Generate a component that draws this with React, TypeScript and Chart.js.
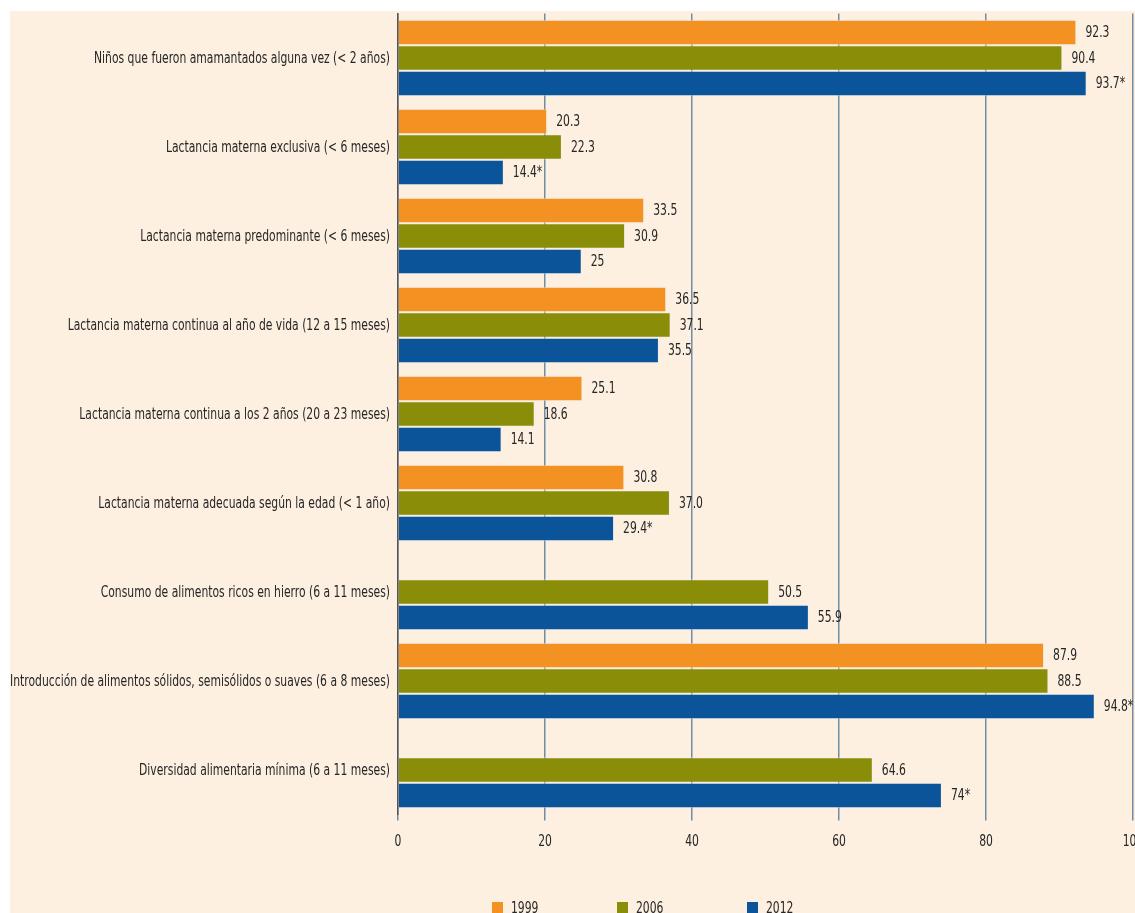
import React, { useEffect, useRef } from "react";
import { Chart, registerables } from "chart.js";

Chart.register(...registerables);

const categories = [
  "Niños que fueron amamantados alguna vez (< 2 años)",
  "Lactancia materna exclusiva (< 6 meses)",
  "Lactancia materna predominante (< 6 meses)",
  "Lactancia materna continua al año de vida (12 a 15 meses)",
  "Lactancia materna continua a los 2 años (20 a 23 meses)",
  "Lactancia materna adecuada según la edad (< 1 año)",
  "Consumo de alimentos ricos en hierro (6 a 11 meses)",
  "Introducción de alimentos sólidos, semisólidos o suaves (6 a 8 meses)",
  "Diversidad alimentaria mínima (6 a 11 meses)",
];

const seriesNames = ["1999", "2006", "2012"];

const values1999 = [92.3, 20.3, 33.5, 36.5, 25.1, 30.8, null, 87.9, null];
const values2006 = [90.4, 22.3, 30.9, 37.1, 18.6, 37.0, 50.5, 88.5, 64.6];
const values2012 = [93.7, 14.4, 25, 35.5, 14.1, 29.4, 55.9, 94.8, 74];

const labels1999 = ["92.3", "20.3", "33.5", "36.5", "25.1", "30.8", "", "87.9", ""];
const labels2006 = ["90.4", "22.3", "30.9", "37.1", "18.6", "37.0", "50.5", "88.5", "64.6"];
const labels2012 = ["93.7*", "14.4*", "25", "35.5", "14.1", "29.4*", "55.9", "94.8*", "74*"];

const xTickValues = [0, 20, 40, 60, 80, 100];

const COLORS = ["#F39223", "#8A8D08", "#0B5499"];
const BG = "#FDF0E1";
const TEXT = "#262626";
const FONT = "'DejaVu Sans Condensed', 'DejaVu Sans', sans-serif";
const FONT_SIZE = 15;
const SQUEEZE = 0.8;

function drawCondensed(ctx: CanvasRenderingContext2D, text: string, x: number, y: number, align: CanvasTextAlign) {
  ctx.save();
  ctx.translate(x, y);
  ctx.scale(SQUEEZE, 1);
  ctx.textAlign = align;
  ctx.textBaseline = "middle";
  ctx.fillText(text, 0, 0);
  ctx.restore();
}

const textPlugin = {
  id: "condensedText",
  afterDatasetsDraw(chart: any) {
    const ctx = chart.ctx as CanvasRenderingContext2D;
    const allLabels = [labels1999, labels2006, labels2012];
    ctx.save();
    ctx.font = `${FONT_SIZE}px ${FONT}`;
    ctx.fillStyle = TEXT;

    // value labels at bar ends
    chart.data.datasets.forEach((ds: any, di: number) => {
      const meta = chart.getDatasetMeta(di);
      meta.data.forEach((el: any, i: number) => {
        const v = ds.data[i];
        if (v === null || v === undefined) return;
        const txt = allLabels[di][i];
        if (!txt) return;
        drawCondensed(ctx, txt, el.x + 9, el.y + 1, "left");
      });
    });

    // category labels
    const yScale = chart.scales.y;
    chart.data.labels.forEach((lab: string, i: number) => {
      drawCondensed(ctx, lab, yScale.right - 8, yScale.getPixelForTick(i) + 1, "right");
    });

    // x tick labels
    const xScale = chart.scales.x;
    xScale.ticks.forEach((t: any, i: number) => {
      drawCondensed(ctx, String(t.value), xScale.getPixelForTick(i), xScale.top + 28, "center");
    });

    // legend
    const xs = [482, 607, 737];
    seriesNames.forEach((name, i) => {
      ctx.fillStyle = COLORS[i];
      ctx.fillRect(xs[i], 891, 11, 14);
      ctx.fillStyle = TEXT;
      drawCondensed(ctx, name, xs[i] + 19, 898, "left");
    });
    ctx.restore();
  },
};

export default function App() {
  const canvasRef = useRef<HTMLCanvasElement | null>(null);

  useEffect(() => {
    document.body.style.margin = "0";
    document.body.style.overflow = "hidden";
    const canvas = canvasRef.current;
    if (!canvas) return;
    const chart = new Chart(canvas, {
      type: "bar",
      data: {
        labels: categories,
        datasets: [
          { label: seriesNames[0], data: values1999 as any, backgroundColor: COLORS[0] },
          { label: seriesNames[1], data: values2006 as any, backgroundColor: COLORS[1] },
          { label: seriesNames[2], data: values2012 as any, backgroundColor: COLORS[2] },
        ].map((d) => ({
          ...d,
          borderColor: "rgba(235,240,240,0.6)",
          borderWidth: 1,
          barPercentage: 1,
          categoryPercentage: 0.86,
        })),
      },
      options: {
        indexAxis: "y",
        animation: false,
        responsive: false,
        devicePixelRatio: 1,
        layout: { padding: { left: 0, right: 2, top: 2.5, bottom: 0 } },
        plugins: {
          legend: { display: false },
          tooltip: { enabled: false },
        },
        scales: {
          x: {
            type: "linear",
            min: 0,
            max: 100,
            afterBuildTicks(scale: any) {
              scale.ticks = xTickValues.map((v) => ({ value: v }));
            },
            afterFit(scale: any) {
              scale.height = 98.5;
              scale.paddingLeft = 0;
              scale.paddingRight = 0;
            },
            grid: {
              color: "#6f8ea5",
              lineWidth: 1.5,
              drawTicks: true,
              tickLength: 6,
              tickColor: "#6f8ea5",
            },
            border: { display: false },
            ticks: { display: false },
          },
          y: {
            afterFit(scale: any) {
              scale.width = 388;
              scale.paddingTop = 0;
              scale.paddingBottom = 0;
            },
            grid: { display: false },
            border: { display: true, color: "#555555", width: 1.5 },
            ticks: { display: false },
          },
        },
      },
      plugins: [textPlugin],
    } as any);
    return () => chart.destroy();
  }, []);

  return (
    <div style={{ position: "relative", width: 1135, height: 913, background: "#ffffff", overflow: "hidden" }}>
      <div style={{ position: "absolute", left: 10, top: 11, width: 1125, height: 902, background: BG, overflow: "hidden" }}>
        <canvas ref={canvasRef} width={1125} height={902} style={{ display: "block" }} />
      </div>
    </div>
  );
}
